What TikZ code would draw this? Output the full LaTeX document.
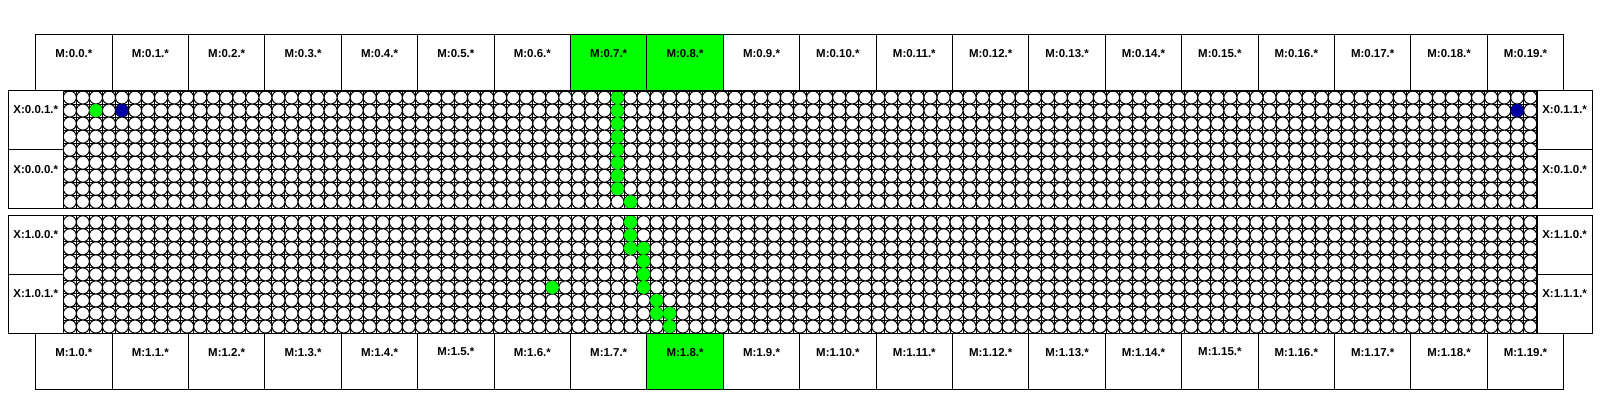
\documentclass[tikz,border=0pt]{standalone}
\usepackage{fontspec}
\setmainfont{Liberation Sans}
\definecolor{hlgreen}{RGB}{0,255,0}
\definecolor{hlblue}{RGB}{0,0,160}
\tikzset{
  boxline/.style={draw=black, line width=0.75pt, inner sep=0pt, outer sep=0pt},
  mbox/.style={boxline, minimum width=57.3pt, minimum height=42.5pt},
  xbox/.style={boxline, minimum width=41.4pt, minimum height=44pt},
  lbl/.style={font=\bfseries\fontsize{8.6}{10}\selectfont, inner sep=0pt, anchor=center},
  gridline/.style={draw=black, line width=0.75pt},
  cell/.style={fill=white, draw=black, line width=0.75pt},
  gdot/.style={fill=hlgreen},
  bdot/.style={fill=hlblue},
}
\begin{document}
\begin{tikzpicture}[x=0.75pt,y={(0pt,-0.75pt)}]
\fill[white] (0,0) rectangle (1600,400);
\useasboundingbox (0,0) rectangle (1600,400);
% grid blocks
\foreach \b/\top in {0/91, 1/215.7}{
  \foreach \i in {0,...,113}
    \draw[gridline] ({63.3+13.04*\i},\top) -- ++(0,117.36);
  \foreach \j in {0,...,9}
    \draw[gridline] (63.3,{\top+13.04*\j}) -- ++(1473.52,0);
  \path[cell] foreach \i in {0,...,112}{ foreach \j in {0,...,8}{
    ({63.3+13.04*(\i+0.5)},{\top+13.04*(\j+0.5)}) circle[radius=4.89pt] } };
}
% highlighted cells, block 0
\foreach \cc/\rr/\ss in {2/1/gdot, 4/1/bdot, 111/1/bdot, 42/0/gdot, 42/1/gdot, 42/2/gdot, 42/3/gdot, 42/4/gdot, 42/5/gdot, 42/6/gdot, 42/7/gdot, 43/8/gdot}
  \path[\ss] ({63.3+13.04*(\cc+0.5)},{91+13.04*(\rr+0.5)}) circle[radius=4.9pt];
% highlighted cells, block 1
\foreach \cc/\rr/\ss in {43/0/gdot, 43/1/gdot, 43/2/gdot, 44/2/gdot, 44/3/gdot, 44/4/gdot, 44/5/gdot, 45/6/gdot, 45/7/gdot, 46/7/gdot, 46/8/gdot, 37/5/gdot}
  \path[\ss] ({63.3+13.04*(\cc+0.5)},{215.7+13.04*(\rr+0.5)}) circle[radius=4.9pt];
% block borders
\draw[gridline] (63.3,91) rectangle ++(1473.52,117.36);
\draw[gridline] (63.3,215.7) rectangle ++(1473.52,117.36);
% M boxes
\foreach \i in {0,...,19}{
  \def\fa{white}\def\fb{white}
  \ifnum\i=7 \def\fa{hlgreen}\fi
  \ifnum\i=8 \def\fa{hlgreen}\def\fb{hlgreen}\fi
  \node[mbox,fill=\fa] (m0-\i) at ({35.7+76.4*(\i+0.5)},62.65) {};
  \node[lbl] (t0-\i) at ({35.7+76.4*(\i+0.5)},53.3) {M:0.\i.*};
  \node[mbox,fill=\fb] (m1-\i) at ({35.7+76.4*(\i+0.5)},361.45) {};
  \node[lbl] (t1-\i) at ({35.7+76.4*(\i+0.5)},352.1) {M:1.\i.*};
}
% X boxes
\node[xbox,fill=white] (xl1) at (35.8,120.3) {};
\node[lbl] at (35.8,110) {X:0.0.1.*};
\node[xbox,fill=white] (xl2) at (35.8,179.0) {};
\node[lbl] at (35.8,170) {X:0.0.0.*};
\node[xbox,fill=white] (xl3) at (35.8,245.0) {};
\node[lbl] at (35.8,235) {X:1.0.0.*};
\node[xbox,fill=white] (xl4) at (35.8,303.7) {};
\node[lbl] at (35.8,294) {X:1.0.1.*};
\node[xbox,fill=white] (xr1) at (1564.6,120.3) {};
\node[lbl] at (1564.6,110) {X:0.1.1.*};
\node[xbox,fill=white] (xr2) at (1564.6,179.0) {};
\node[lbl] at (1564.6,170) {X:0.1.0.*};
\node[xbox,fill=white] (xr3) at (1564.6,245.0) {};
\node[lbl] at (1564.6,235) {X:1.1.0.*};
\node[xbox,fill=white] (xr4) at (1564.6,303.7) {};
\node[lbl] at (1564.6,294) {X:1.1.1.*};
\end{tikzpicture}
\end{document}
